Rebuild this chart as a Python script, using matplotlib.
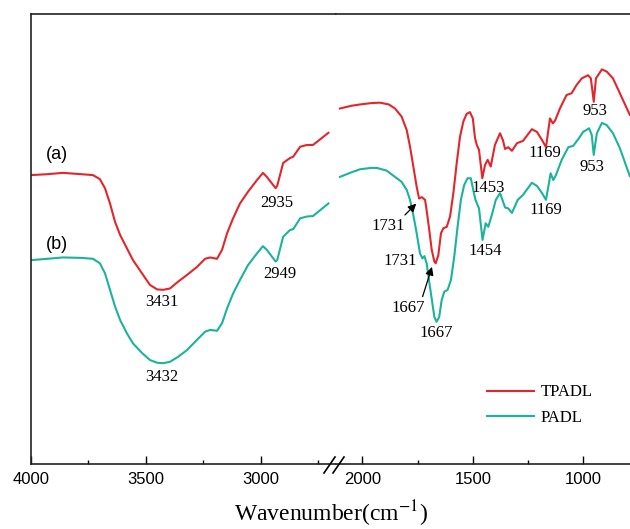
import matplotlib
matplotlib.use("Agg")
import matplotlib.pyplot as plt
from matplotlib.lines import Line2D

plt.rcParams['font.family'] = ['Liberation Sans', 'DejaVu Sans']
plt.rcParams['mathtext.fontset'] = 'stix'

# high wavenumber part (4000 - 2700 cm-1)
wn_hi = [4000, 3930, 3861, 3780, 3730, 3700, 3678, 3656, 3634, 3612, 3582, 3556, 3517,
         3482, 3451, 3425, 3395, 3360, 3321, 3277, 3242, 3220, 3190, 3168, 3146, 3120,
         3090, 3055, 3016, 2990, 2973, 2935, 2928, 2902, 2872, 2858, 2828, 2798, 2772,
         2705]
tpadl_hi = [64.2, 64.4, 64.7, 64.4, 64.2, 63.3, 61.3, 57.9, 53.8, 50.9, 47.9, 45.3, 42.4,
            39.8, 38.8, 38.7, 39.0, 40.5, 42.0, 43.8, 45.6, 45.9, 45.6, 47.6, 51.3, 54.6,
            57.9, 60.5, 63.1, 64.7, 63.8, 61.3, 61.8, 66.9, 68.0, 68.3, 70.5, 70.9, 70.9,
            73.6]
padl_hi = [45.3, 45.6, 45.9, 45.8, 45.6, 44.6, 42.4, 38.7, 35.0, 32.0, 29.0, 26.8, 24.7,
           23.1, 22.5, 22.4, 22.7, 23.8, 25.3, 27.6, 29.4, 29.8, 29.6, 31.3, 34.6, 37.9,
           40.9, 44.2, 46.8, 48.4, 47.6, 45.0, 45.3, 50.5, 52.0, 52.2, 54.6, 55.0, 55.1,
           57.9]

# low wavenumber part (2100 - 790 cm-1)
wn_lo_a = [2101, 2050, 2010, 1960, 1920, 1880, 1852, 1822, 1799, 1784, 1769, 1754, 1743,
           1731, 1716, 1709, 1697, 1686, 1674, 1668, 1656, 1644, 1633, 1618, 1603, 1588,
           1573, 1558, 1543, 1528, 1513, 1500, 1490, 1482, 1472, 1457, 1445, 1433, 1419,
           1400, 1377, 1364, 1354, 1340, 1323, 1300, 1273, 1233, 1210, 1187, 1169, 1151,
           1138, 1128, 1106, 1076, 1053, 1031, 1007, 979, 966, 953, 943, 916, 894, 866,
           835, 790]
tpadl_lo = [79.0, 79.6, 79.9, 80.2, 80.3, 79.9, 79.0, 77.2, 74.2, 70.5, 66.1, 61.6, 59.0,
            59.3, 58.7, 56.4, 52.0, 47.6, 45.0, 44.6, 46.4, 51.3, 52.4, 52.7, 55.0, 60.2,
            66.8, 72.7, 76.1, 77.8, 78.2, 76.8, 72.4, 70.9, 69.8, 63.5, 66.4, 67.6, 66.1,
            70.9, 73.5, 72.0, 70.0, 70.4, 69.6, 71.3, 71.8, 74.4, 73.8, 72.0, 70.4, 76.8,
            75.7, 76.3, 79.0, 82.0, 82.4, 84.2, 85.7, 86.4, 85.7, 80.5, 85.7, 87.7, 87.2,
            85.7, 82.4, 77.6]

wn_lo_b = [2101, 2050, 2010, 1960, 1934, 1890, 1852, 1822, 1799, 1784, 1769, 1754, 1739,
           1728, 1719, 1709, 1694, 1683, 1674, 1664, 1652, 1641, 1629, 1614, 1599, 1584,
           1569, 1554, 1539, 1524, 1509, 1498, 1488, 1472, 1456, 1442, 1430, 1412, 1396,
           1377, 1354, 1340, 1323, 1297, 1273, 1233, 1210, 1187, 1169, 1148, 1136, 1124,
           1098, 1068, 1046, 1023, 1001, 974, 962, 953, 939, 916, 894, 866, 835, 790]
padl_lo = [63.8, 64.8, 65.5, 65.8, 65.8, 65.2, 63.8, 62.7, 60.9, 58.7, 55.3, 51.3, 46.8,
           45.7, 46.2, 44.6, 39.4, 35.7, 32.7, 31.6, 32.7, 36.4, 38.3, 38.7, 40.9, 46.1,
           52.7, 58.7, 62.0, 63.5, 63.5, 60.9, 58.7, 56.8, 49.8, 53.5, 52.7, 55.7, 58.7,
           60.2, 57.0, 56.8, 55.8, 58.7, 59.8, 62.5, 61.8, 60.2, 58.7, 64.6, 63.1, 64.2,
           67.6, 70.4, 70.7, 72.2, 73.8, 74.6, 73.1, 68.7, 73.5, 75.8, 75.3, 73.5, 70.2,
           64.0]

red = '#e3262c'
teal = '#1bb39c'
serif = 'Liberation Serif'

fig = plt.figure(figsize=(6.3, 5.29), dpi=100)
ax1 = fig.add_axes([0.0492, 0.1229, 0.4841, 0.8506])
ax2 = fig.add_axes([0.5333, 0.1229, 0.4667, 0.8506])

ax1.plot(wn_hi, tpadl_hi, color=red, lw=1.5)
ax1.plot(wn_hi, padl_hi, color=teal, lw=1.5)
ax2.plot(wn_lo_a, tpadl_lo, color=red, lw=1.5, label='TPADL')
ax2.plot(wn_lo_b, padl_lo, color=teal, lw=1.5, label='PADL')

ax1.set_xlim(4000, 2672)
ax2.set_xlim(2119, 789)
for ax in (ax1, ax2):
    ax.set_ylim(0, 100)
    ax.set_yticks([])
    ax.tick_params(axis='x', which='major', direction='in', length=6, width=1, labelsize=12, pad=6)
    ax.tick_params(axis='x', which='minor', direction='in', length=3, width=1)
    for s in ax.spines.values():
        s.set_linewidth(1.2)
        s.set_color('#222222')
ax1.spines['right'].set_visible(False)
ax2.spines['left'].set_visible(False)
ax2.spines['right'].set_visible(False)
ax1.set_xticks([4000, 3500, 3000])
ax1.set_xticks([3750, 3250, 2750], minor=True)
ax2.set_xticks([2000, 1500, 1000])
ax2.set_xticks([1750, 1250], minor=True)

# peak labels
for x, y, t in [(3431, 36.0, '3431'), (3431, 19.3, '3432'), (2929, 58.0, '2935'), (2916, 42.2, '2949')]:
    ax1.text(x, y, t, family=serif, fontsize=12, ha='center', va='center')
for x, y, t in [(947, 78.4, '953'), (962, 66.0, '953'), (1173, 69.1, '1169'), (1170, 56.4, '1169'),
                (1430, 61.3, '1453'), (1445, 47.3, '1454'), (1829, 45.1, '1731'), (1667, 29.1, '1667')]:
    ax2.text(x, y, t, family=serif, fontsize=12, ha='center', va='center')

ax2.annotate('', xy=(1747, 58.3), xytext=(1816, 54.9),
             arrowprops=dict(arrowstyle='-|>', color='black', lw=0.9, mutation_scale=12))
ax2.text(1882, 52.9, '1731', family=serif, fontsize=12, ha='center', va='center')
ax2.annotate('', xy=(1681, 44.4), xytext=(1731, 36.6),
             arrowprops=dict(arrowstyle='-|>', color='black', lw=0.9, mutation_scale=12))
ax2.text(1792, 34.7, '1667', family=serif, fontsize=12, ha='center', va='center')

ax1.text(3887, 68.7, '(a)', fontsize=13, ha='center', va='center')
ax1.text(3887, 48.7, '(b)', fontsize=13, ha='center', va='center')

ax2.legend(loc='center left', bbox_to_anchor=(487 / 630, 1 - 405 / 529),
           bbox_transform=fig.transFigure, frameon=False, prop={'family': serif, 'size': 12},
           handlelength=2.8, handletextpad=0.4, labelspacing=0.55, borderpad=0, borderaxespad=0)

# axis break marks
for x0 in (324, 333):
    fig.add_artist(Line2D([x0 / 630, (x0 + 11) / 630], [1 - 473 / 529, 1 - 457 / 529],
                          color='black', lw=1.2, transform=fig.transFigure))

fig.text(331 / 630, 1 - 514 / 529, r'Wavenumber(cm$^{-1}$)', family=serif, fontsize=17,
         ha='center', va='center')

fig.savefig('out.png', dpi=100)
